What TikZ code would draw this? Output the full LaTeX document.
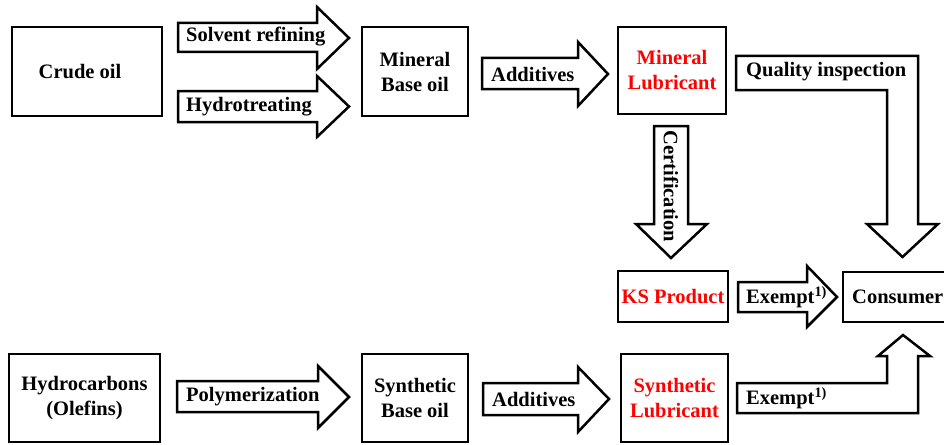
\documentclass[tikz,border=0pt]{standalone}
\usepackage{fontspec}
\setmainfont{Liberation Serif}
\definecolor{lubred}{RGB}{255,0,0}
\begin{document}
\begin{tikzpicture}[x=1pt,y=-1pt,
  every node/.style={font=\fontsize{20.5}{25}\selectfont\bfseries, inner sep=0pt},
  box/.style={draw, line width=2.5pt, align=center},
  barrow/.style={draw, line width=2.5pt, line join=miter, fill=white},
  lbl/.style={anchor=west}]
\useasboundingbox (0,0) rectangle (944,444);
% boxes
\node[box, minimum width=150pt, minimum height=89pt] (crude) at (87,71.5) {};
\node at ([xshift=-7pt]crude.center) {Crude oil};
\node[box, minimum width=106pt, minimum height=89pt] (mbase) at (415,71.5) {Mineral\\Base oil};
\node[box, minimum width=108pt, minimum height=87pt, text=lubred] (mlub) at (672,70.5) {Mineral\\Lubricant};
\node[box, minimum width=110pt, minimum height=51pt, text=lubred] (ks) at (673,296.5) {KS Product};
\node[box, minimum width=120pt, minimum height=50pt] (cons) at (903,297) {};
\node[lbl] (constext) at (852,297) {Consumer};
\node[box, minimum width=151pt, minimum height=88pt] (hydro) at (84.5,398) {Hydrocarbons\\(Olefins)};
\node[box, minimum width=106pt, minimum height=88pt] (sbase) at (415,398) {Synthetic\\Base oil};
\node[box, minimum width=107pt, minimum height=88pt, text=lubred] (slub) at (674.5,398) {Synthetic\\Lubricant};
% straight block arrows
\draw[barrow] (178,23) -- (317,23) -- (317,7) -- (349,38) -- (317,69) -- (317,52) -- (178,52) -- cycle;
\node[lbl] (tsolv) at (186,37) {Solvent refining};
\draw[barrow] (178,91) -- (317,91) -- (317,76) -- (349,106.5) -- (317,137) -- (317,122) -- (178,122) -- cycle;
\node[lbl] (thydro) at (186,106.5) {Hydrotreating};
\draw[barrow] (482,58) -- (578,58) -- (578,42) -- (608,74) -- (578,106) -- (578,89) -- (482,89) -- cycle;
\node[lbl] (tadd1) at (491,74) {Additives};
\draw[barrow] (177,381) -- (318,381) -- (318,366) -- (349,397) -- (318,428) -- (318,412) -- (177,412) -- cycle;
\node[lbl] (tpoly) at (186,396.5) {Polymerization};
\draw[barrow] (483,383) -- (578,383) -- (578,367) -- (609,399) -- (578,432) -- (578,415) -- (483,415) -- cycle;
\node[lbl] (tadd2) at (492,399) {Additives};
\draw[barrow] (738,282) -- (807,282) -- (807,266) -- (837,297) -- (807,327) -- (807,312) -- (738,312) -- cycle;
\node[lbl] (tex1) at (746,297) {Exempt\textsuperscript{1)}};
% certification
\draw[barrow] (654,126) -- (688,126) -- (688,224) -- (707,224) -- (671,258) -- (636,224) -- (654,224) -- cycle;
\node[rotate=-90] (tcert) at (671,186.5) {Certification};
% quality inspection
\draw[barrow] (736,56) -- (918,56) -- (918,224) -- (938,224) -- (902.5,257) -- (867,224) -- (887,224) -- (887,90) -- (736,90) -- cycle;
\node[lbl] (tqual) at (746,72) {Quality inspection};
% lower exempt
\draw[barrow] (737,413) -- (918,413) -- (918,356) -- (930,356) -- (903,335) -- (878,356) -- (887,356) -- (887,383) -- (737,383) -- cycle;
\node[lbl] (tex2) at (746,398) {Exempt\textsuperscript{1)}};
\end{tikzpicture}
\end{document}
